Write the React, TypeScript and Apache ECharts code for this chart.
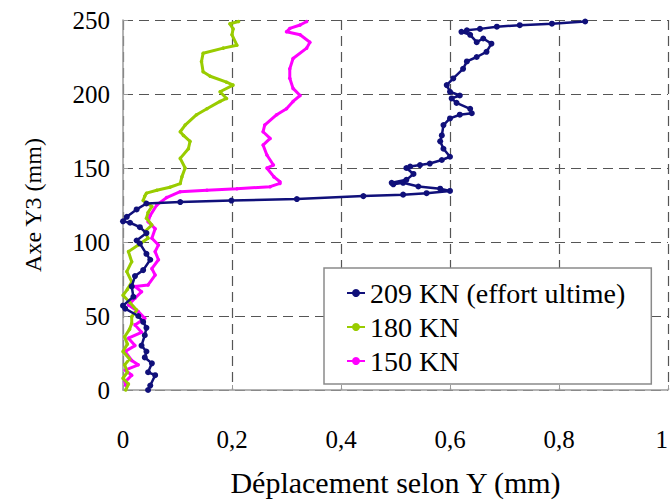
import React, { useEffect, useRef } from "react";
import * as echarts from "echarts";

const seriesNames = ["209 KN (effort ultime)", "180 KN", "150 KN"];
const seriesColors = ["#10107a", "#99cc00", "#ff00ff"];

const xTicks = { min: 0, max: 1, interval: 0.2 };
const yTicks = { min: 0, max: 250, interval: 50 };

const blueX = [0.046,0.050,0.059,0.046,0.053,0.040,0.043,0.034,0.040,0.043,0.037,0.028,0.004,0.0,0.019,0.016,0.022,0.037,0.050,0.043,0.031,0.025,0.043,0.031,0.013,0.0,0.007,0.025,0.043,0.105,0.199,0.319,0.441,0.514,0.557,0.600,0.582,0.542,0.514,0.496,0.493,0.52,0.533,0.52,0.527,0.545,0.563,0.585,0.6,0.588,0.582,0.585,0.588,0.6,0.618,0.64,0.637,0.612,0.603,0.618,0.60,0.594,0.606,0.624,0.631,0.649,0.667,0.676,0.661,0.649,0.637,0.621,0.631,0.655,0.686,0.728,0.787,0.848];
const blueY = [0,3,10,12,18,22,26,30,37,42,46,50,55,57,63,70,77,81,88,92,99,101,106,110,113,114,117,122,126,127,128,129,131,132,133,134.5,136,137.5,140,139,140,142,146,150,151,152,153,155.4,157.6,163,168,172,179,183.5,186,187,190,194,197,199,201.5,206,210.5,217,222,225,228.5,234,237.5,235,240,242,243,244,245.5,246.5,247.5,249];

const greenX = [0.005,0.01,0.0,0.008,0.003,0.012,0.0,0.008,0.003,0.012,0.016,0.016,0.025,0.013,0.0,0.008,0.016,0.007,0.016,0.01,0.028,0.046,0.04,0.053,0.043,0.046,0.053,0.037,0.04,0.043,0.062,0.086,0.105,0.108,0.114,0.105,0.12,0.123,0.111,0.105,0.114,0.135,0.154,0.178,0.19,0.178,0.202,0.19,0.16,0.147,0.144,0.147,0.184,0.209,0.2,0.202,0.196,0.212];
const greenY = [0,4,8,12,17,21,26,31,36,41,45,49.5,54,59,64,68,73,80,86.7,93.5,98,102.5,107,111.5,116,120,124,128,131,133,135,137,139.5,144,150,156.5,163,168,172,174.5,179,186,190,195,197,201.5,206,208,212,215,222,227.5,231,233,240,244,247.5,249];

const pinkX = [0.005,0.004,0.016,0.004,0.028,0.016,0.004,0.022,0.01,0.034,0.022,0.04,0.028,0.01,0.022,0.034,0.022,0.046,0.059,0.053,0.065,0.059,0.065,0.053,0.059,0.046,0.05,0.062,0.08,0.105,0.154,0.209,0.27,0.288,0.288,0.277,0.264,0.276,0.264,0.257,0.27,0.257,0.26,0.282,0.3,0.312,0.325,0.312,0.306,0.306,0.312,0.337,0.343,0.325,0.3,0.306,0.325,0.337];
const pinkY = [3,5.5,10,13.5,17,20,26,30,35,39,44,48.4,53,57.4,62,66.4,70,71,77.7,82,88,93.5,98,102.5,109,113.7,118,125,130,134,135,136,137.4,139.6,140.7,144,150,152,158.8,165.5,170,174.5,179,186,190,195,199,203.8,210.6,217,224,231,235,240,242,244.3,246.6,249];

const FONT = "Liberation Serif, serif";

function pairs(xs: number[], ys: number[]) {
  return xs.map((x, i) => [x, ys[i]]);
}

export default function App() {
  const ref = useRef<HTMLDivElement>(null);
  useEffect(() => {
    if (!ref.current) return;
    const chart = echarts.init(ref.current, null, { renderer: "svg" });
    const dataSets = [pairs(blueX, blueY), pairs(greenX, greenY), pairs(pinkX, pinkY)];
    chart.setOption({
      animation: false,
      backgroundColor: "#ffffff",
      textStyle: { fontFamily: FONT },
      grid: { left: 123, right: 4, top: 20, bottom: 110, outerBoundsMode: "none", containLabel: false },
      xAxis: {
        type: "value",
        min: xTicks.min,
        max: xTicks.max,
        interval: xTicks.interval,
        name: "Déplacement selon Y (mm)",
        nameLocation: "middle",
        nameGap: 77,
        nameTextStyle: { fontFamily: FONT, fontSize: 30, color: "#000" },
        axisLine: { show: true, lineStyle: { color: "#9a9a9a", width: 1.5 } },
        axisTick: { show: true, inside: true, length: 5, lineStyle: { color: "#9a9a9a" } },
        axisLabel: {
          margin: 37,
          fontFamily: FONT,
          fontSize: 25,
          color: "#000",
          alignMaxLabel: "right",
          formatter: (v: number) => String(v).replace(".", ","),
        },
        splitLine: { show: true, lineStyle: { type: [10, 6], color: "#555", width: 1.2 } },
      },
      yAxis: {
        type: "value",
        min: yTicks.min,
        max: yTicks.max,
        interval: yTicks.interval,
        name: "Axe Y3 (mm)",
        nameLocation: "middle",
        nameGap: 78,
        nameRotate: 90,
        nameTextStyle: { fontFamily: FONT, fontSize: 24, color: "#000" },
        axisLine: { show: true, lineStyle: { color: "#9a9a9a", width: 1.5 } },
        axisTick: { show: true, inside: true, length: 5, lineStyle: { color: "#9a9a9a" } },
        axisLabel: { margin: 13, fontFamily: FONT, fontSize: 25, color: "#000" },
        splitLine: { show: true, lineStyle: { type: [10, 6], color: "#555", width: 1.2 } },
      },
      legend: {
        show: true,
        orient: "vertical",
        left: 324,
        top: 268,
        padding: [11, 26, 9, 22],
        itemGap: 6,
        itemWidth: 18,
        itemHeight: 10,
        backgroundColor: "#ffffff",
        borderColor: "#8a8a8a",
        borderWidth: 1.5,
        borderRadius: 0,
        textStyle: { fontFamily: FONT, fontSize: 28, color: "#000" },
        data: seriesNames,
      },
      series: dataSets.map((d, i) => ({
        name: seriesNames[i],
        type: "line",
        data: d,
        showSymbol: true,
        symbol: "circle",
        symbolSize: i === 0 ? 6 : 3.5,
        color: seriesColors[i],
        lineStyle: { color: seriesColors[i], width: i === 0 ? 2.5 : 3 },
        itemStyle: { color: seriesColors[i] },
        z: 3 - i,
      })),
    });
    return () => chart.dispose();
  }, []);
  return <div ref={ref} style={{ width: 672, height: 500, position: "absolute", left: 0, top: 0 }} />;
}
